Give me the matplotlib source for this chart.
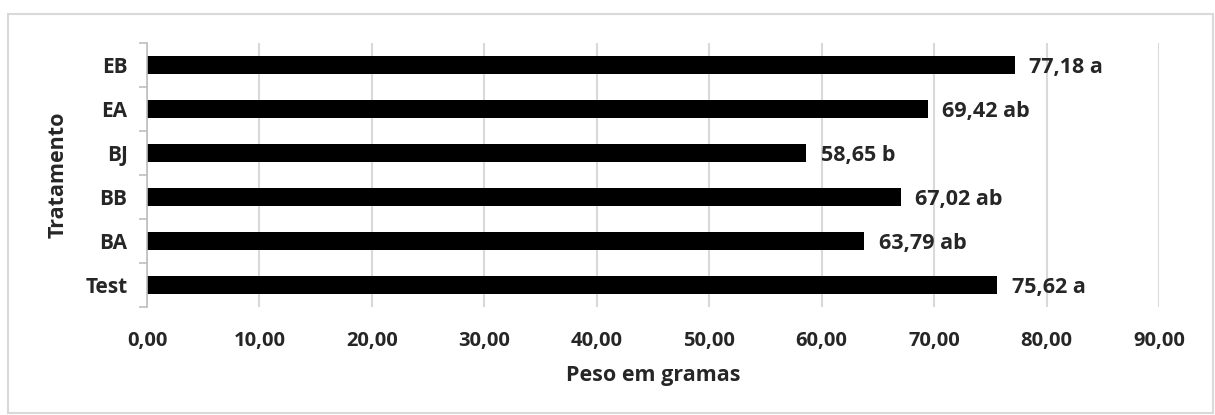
import matplotlib.pyplot as plt
from matplotlib.patches import Rectangle

tratamentos = ['Test', 'BA', 'BB', 'BJ', 'EA', 'EB']
pesos = [75.62, 63.79, 67.02, 58.65, 69.42, 77.18]
letras = ['a', 'ab', 'ab', 'b', 'ab', 'a']
xticks = [0, 10, 20, 30, 40, 50, 60, 70, 80, 90]

plt.rcParams['font.family'] = ['Open Sans', 'DejaVu Sans']
plt.rcParams['font.weight'] = 'bold'

fig = plt.figure(figsize=(12.15, 4.15), dpi=100)
ax = fig.add_axes([147 / 1215, 108 / 415, 1012 / 1215, 264 / 415])

# borda do gráfico (estilo Excel)
fig.patches.append(Rectangle((8 / 1215, 2 / 415), 1205 / 1215, 399 / 415,
                             transform=fig.transFigure, fill=False,
                             edgecolor='#d9d9d9', linewidth=1.5))

ypos = range(len(tratamentos))
ax.barh(ypos, pesos, height=0.39, color='black')

for y, v, l in zip(ypos, pesos, letras):
    txt = f'{v:.2f}'.replace('.', ',') + ' ' + l
    ax.text(v + 1.3, y - 0.05, txt, va='center', ha='left',
            fontsize=15.5, fontweight='bold', color='#262626')

ax.set_xlim(0, 90)
ax.set_ylim(-0.5, len(tratamentos) - 0.5)
ax.set_xticks(xticks)
ax.set_xticklabels([f'{t:.2f}'.replace('.', ',') for t in xticks],
                   fontsize=14.5, fontweight='bold', color='#262626')
ax.set_yticks(list(ypos))
ax.set_yticklabels(tratamentos, fontsize=15, fontweight='bold', color='#262626')
ax.tick_params(axis='x', length=0, pad=17)
ax.tick_params(axis='y', length=0, pad=14)

# marcas entre categorias no eixo vertical
ax.set_yticks([i - 0.5 for i in range(len(tratamentos) + 1)], minor=True)
ax.tick_params(axis='y', which='minor', length=6, color='#bfbfbf', width=1.2)

ax.grid(axis='x', color='#d9d9d9', linewidth=1.5)
ax.set_axisbelow(True)
for s in ['top', 'right', 'bottom']:
    ax.spines[s].set_visible(False)
ax.spines['left'].set_color('#bfbfbf')
ax.spines['left'].set_linewidth(1.2)

ax.set_xlabel('Peso em gramas', fontsize=15.5, fontweight='bold',
              color='#262626', labelpad=10)
ax.set_ylabel('Tratamento', fontsize=15.5, fontweight='bold',
              color='#262626', labelpad=12)

fig.savefig('out.png', dpi=100)
